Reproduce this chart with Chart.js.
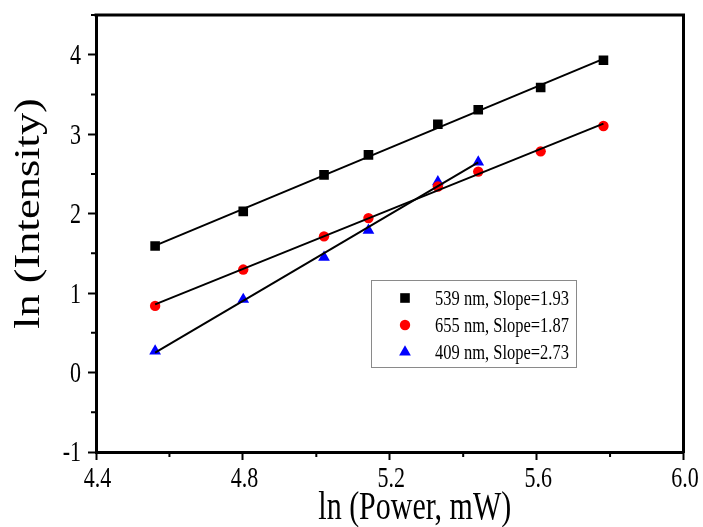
<!DOCTYPE html>
<html>
<head>
<meta charset="utf-8">
<script src="https://cdn.jsdelivr.net/npm/chart.js@4/dist/chart.umd.min.js"></script>
<style>
  html, body { margin: 0; padding: 0; background: #fff; }
</style>
</head>
<body>
<canvas id="chart" width="703" height="527"></canvas>
<script>
// ln(power) values shared by the series
const ln_power = [4.561, 4.801, 5.021, 5.142, 5.331, 5.441, 5.611, 5.782];
// ln(intensity) for each emission band
const band_539 = [1.592, 2.028, 2.488, 2.739, 3.125, 3.307, 3.587, 3.931];
const band_655 = [0.839, 1.296, 1.714, 1.944, 2.341, 2.529, 2.784, 3.103];
const band_409 = [0.27, 0.92, 1.45, 1.79, 2.40, 2.65];
const series_labels = ["539 nm, Slope=1.93", "655 nm, Slope=1.87", "409 nm, Slope=2.73"];

const x_ticks = [4.4, 4.8, 5.2, 5.6, 6.0];
const x_minor = [4.6, 5.0, 5.4, 5.8];
const y_ticks = [-1, 0, 1, 2, 3, 4];
const y_minor = [-0.5, 0.5, 1.5, 2.5, 3.5, 4.5];
const x_title = "ln (Power, mW)";
const y_title = "ln (Intensity)";

const FONT = "'Liberation Serif', 'Times New Roman', serif";
// the picture's text is taller than it is wide
const TEXT_STRETCH = 1.3;

function to_points(xs, ys) {
  return ys.map((y, i) => ({ x: xs[i], y: y }));
}

// least squares line through the points, drawn between first and last x
function fit_line(xs, ys) {
  const n = ys.length;
  const px = xs.slice(0, n);
  const mx = px.reduce((a, b) => a + b, 0) / n;
  const my = ys.reduce((a, b) => a + b, 0) / n;
  let sxy = 0, sxx = 0;
  for (let i = 0; i < n; i++) {
    sxy += (px[i] - mx) * (ys[i] - my);
    sxx += (px[i] - mx) * (px[i] - mx);
  }
  const slope = sxy / sxx;
  const icpt = my - slope * mx;
  return [
    { x: px[0], y: icpt + slope * px[0] },
    { x: px[n - 1], y: icpt + slope * px[n - 1] },
  ];
}

const markers = [
  { style: "rect", radius: 6.8, color: "#000000" },
  { style: "circle", radius: 5.2, color: "#ff0000" },
  { style: "triangle", radius: 6.8, color: "#0000ff" },
];

function draw_marker(ctx, m, x, y) {
  ctx.save();
  ctx.fillStyle = m.color;
  if (Chart.helpers && Chart.helpers.drawPoint) {
    Chart.helpers.drawPoint(ctx, { pointStyle: m.style, radius: m.radius, rotation: 0, borderWidth: 0 }, x, y);
  } else {
    ctx.beginPath();
    ctx.arc(x, y, m.radius, 0, Math.PI * 2);
    ctx.fill();
  }
  ctx.restore();
}

// text drawn at (x, y) baseline, stretched vertically on screen
function stretched_text(ctx, txt, x, y, size, align, rotated, stretch) {
  const k = stretch || TEXT_STRETCH;
  ctx.save();
  ctx.translate(x, y);
  if (rotated) {
    ctx.rotate(-Math.PI / 2);
    ctx.scale(k, 1);
  } else {
    ctx.scale(1, k);
  }
  ctx.font = size + "px " + FONT;
  ctx.fillStyle = "#000";
  ctx.textAlign = align;
  ctx.textBaseline = "alphabetic";
  ctx.fillText(txt, 0, 0);
  ctx.restore();
}

const frame_plugin = {
  id: "frame",
  afterDraw(chart) {
    const { ctx, chartArea: a, scales } = chart;
    ctx.save();
    // top and right frame lines
    ctx.strokeStyle = "#000";
    ctx.lineWidth = 3;
    ctx.beginPath();
    ctx.moveTo(a.left - 1.5, a.top);
    ctx.lineTo(a.right, a.top);
    ctx.lineTo(a.right, a.bottom + 1.5);
    ctx.stroke();

    // minor ticks
    ctx.lineWidth = 2;
    ctx.beginPath();
    x_minor.forEach(v => {
      const px = scales.x.getPixelForValue(v);
      ctx.moveTo(px, a.bottom);
      ctx.lineTo(px, a.bottom + 5);
    });
    y_minor.forEach(v => {
      const py = scales.y.getPixelForValue(v);
      ctx.moveTo(a.left, py);
      ctx.lineTo(a.left - 5, py);
    });
    ctx.stroke();

    // tick labels
    const tick_size = 22;
    x_ticks.forEach(v => {
      stretched_text(ctx, v.toFixed(1), scales.x.getPixelForValue(v) + 1.5, 487, tick_size, "center", false);
    });
    y_ticks.forEach(v => {
      const py = scales.y.getPixelForValue(v);
      stretched_text(ctx, String(v), 81, py + 0.33 * tick_size * TEXT_STRETCH, tick_size, "right", false);
    });

    // axis titles
    stretched_text(ctx, x_title, (a.left + a.right) / 2 + 25, 519, 30, "center", false);
    stretched_text(ctx, y_title, 39, 213.5, 35, "center", true, 1.27);

    // legend box
    const lx = 371, ly = 280, lw = 205, lh = 87;
    ctx.strokeStyle = "#8a8a8a";
    ctx.lineWidth = 1;
    ctx.strokeRect(lx + 0.5, ly + 0.5, lw, lh);
    series_labels.forEach((txt, i) => {
      const ry = 298 + i * 27;
      draw_marker(ctx, markers[i], 405, ry);
      stretched_text(ctx, txt, 435, ry + 0.33 * 16.5 * TEXT_STRETCH, 16.5, "left", false);
    });
    ctx.restore();
  },
};

const fit_style = {
  showLine: true,
  borderColor: "#000",
  borderWidth: 2,
  pointRadius: 0,
  fill: false,
  order: 1,
};

function scatter_set(label, data, m) {
  return {
    label: label,
    data: data,
    pointStyle: m.style,
    pointRadius: m.radius,
    pointHoverRadius: m.radius,
    backgroundColor: m.color,
    borderWidth: 0,
    showLine: false,
    order: 2,
  };
}

const axis_grid = {
  drawOnChartArea: false,
  drawTicks: true,
  tickLength: 8,
  tickColor: "#000",
  tickWidth: 2,
};

new Chart(document.getElementById("chart"), {
  type: "scatter",
  data: {
    datasets: [
      scatter_set(series_labels[0], to_points(ln_power, band_539), markers[0]),
      scatter_set(series_labels[1], to_points(ln_power, band_655), markers[1]),
      scatter_set(series_labels[2], to_points(ln_power, band_409), markers[2]),
      Object.assign({ data: fit_line(ln_power, band_539) }, fit_style),
      Object.assign({ data: fit_line(ln_power, band_655) }, fit_style),
      Object.assign({ data: fit_line(ln_power, band_409) }, fit_style),
    ],
  },
  options: {
    responsive: false,
    animation: false,
    layout: { padding: { top: 15, right: 19.5, left: 0, bottom: 0 } },
    plugins: {
      legend: { display: false },
      tooltip: { enabled: false },
    },
    scales: {
      x: {
        type: "linear",
        min: 4.4,
        max: 6.0,
        afterBuildTicks: (s) => { s.ticks = x_ticks.map(v => ({ value: v })); },
        afterFit: (s) => { s.height = 75; },
        ticks: { display: false },
        grid: axis_grid,
        border: { display: true, color: "#000", width: 3 },
      },
      y: {
        type: "linear",
        min: -1,
        max: 4.5,
        afterBuildTicks: (s) => { s.ticks = y_ticks.map(v => ({ value: v })); },
        afterFit: (s) => { s.width = 96; },
        ticks: { display: false },
        grid: axis_grid,
        border: { display: true, color: "#000", width: 3 },
      },
    },
  },
  plugins: [frame_plugin],
});
</script>
</body>
</html>
